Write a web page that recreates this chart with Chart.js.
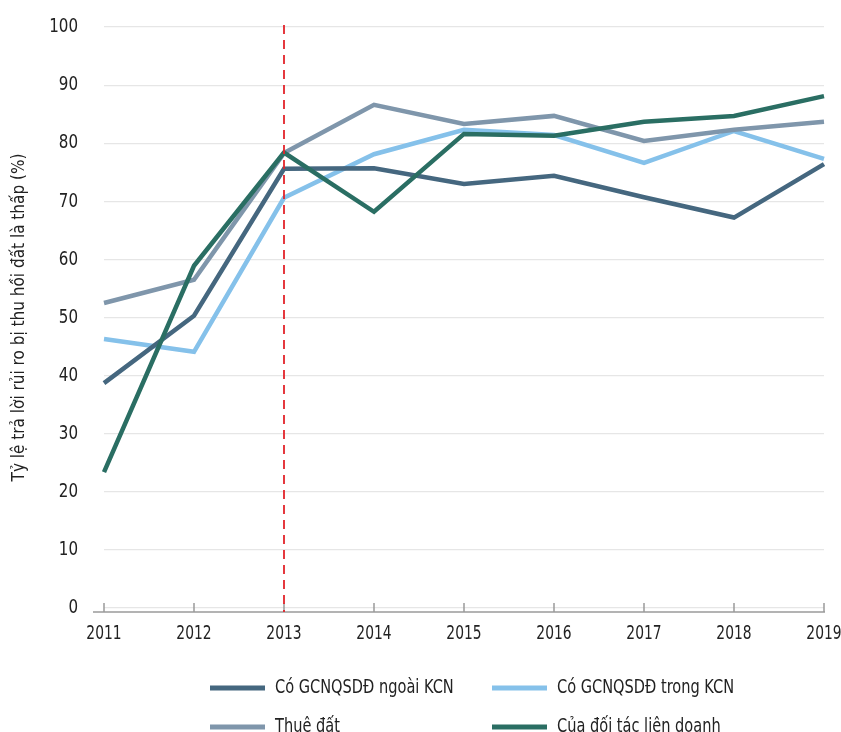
<!DOCTYPE html>
<html><head><meta charset="utf-8">
<script src="https://cdn.jsdelivr.net/npm/chart.js@4.4.1/dist/chart.umd.min.js"></script>
<style>html,body{margin:0;padding:0;background:#fff}#wrap{width:841px;height:732px;position:relative}</style>
</head><body><div id="wrap"><canvas id="c" width="841" height="732"></canvas></div>
<script>
const years = ['2011','2012','2013','2014','2015','2016','2017','2018','2019'];
const ngoaiKCN = [38.7, 50.3, 75.6, 75.7, 73.0, 74.4, 70.7, 67.2, 76.4];
const trongKCN = [46.3, 44.1, 70.6, 78.1, 82.3, 81.4, 76.6, 82.1, 77.3];
const thueDat  = [52.5, 56.5, 78.3, 86.6, 83.3, 84.7, 80.4, 82.3, 83.7];
const doiTac   = [23.4, 58.9, 78.4, 68.2, 81.6, 81.3, 83.7, 84.7, 88.1];
const seriesNames = ['Có GCNQSDĐ ngoài KCN','Có GCNQSDĐ trong KCN','Thuê đất','Của đối tác liên doanh'];
const yTicks = [0,10,20,30,40,50,60,70,80,90,100];
const markerYear = '2013';
const yTitle = 'Tỷ lệ trả lời rủi ro bị thu hồi đất là thấp (%)';

const FONT = "'DejaVu Sans Condensed','DejaVu Sans',sans-serif";
const colors = ['#45677f','#85c1ea','#7f96ab','#2a6e63'];

function txt(ctx, s, x, y, size, sx, align){
  ctx.save();
  ctx.font = size + "px " + FONT;
  ctx.fillStyle = '#222';
  ctx.textBaseline = 'middle';
  ctx.textAlign = align;
  ctx.translate(x, y); ctx.scale(sx, 1);
  ctx.fillText(s, 0, 0);
  ctx.restore();
}

const extras = {
  id:'extras',
  afterDatasetsDraw(chart){
    const ctx = chart.ctx, x = chart.scales.x, y = chart.scales.y, ca = chart.chartArea;
    ctx.save();
    const yb = y.getPixelForValue(0) + 4;
    ctx.strokeStyle = '#9a9a9a'; ctx.lineWidth = 1.5;
    ctx.beginPath(); ctx.moveTo(ca.left-11, yb); ctx.lineTo(ca.right+1, yb); ctx.stroke();
    years.forEach((yr,i)=>{
      const px = x.getPixelForValue(i);
      ctx.beginPath(); ctx.moveTo(px, yb); ctx.lineTo(px, yb-9); ctx.stroke();
    });
    const mx = x.getPixelForValue(years.indexOf(markerYear));
    ctx.strokeStyle = '#e3242b'; ctx.lineWidth = 1.8; ctx.setLineDash([9,6]);
    ctx.beginPath(); ctx.moveTo(mx, y.getPixelForValue(100)-2); ctx.lineTo(mx, yb); ctx.stroke();
    ctx.setLineDash([]);
    ctx.restore();
  },
  afterDraw(chart){
    const ctx = chart.ctx, x = chart.scales.x, y = chart.scales.y, ca = chart.chartArea;
    yTicks.forEach(v=> txt(ctx, String(v), ca.left-26, y.getPixelForValue(v), 20, 0.84, 'right'));
    years.forEach((yr,i)=> txt(ctx, yr, x.getPixelForValue(i), 634, 20, 0.77, 'center'));
    ctx.save();
    ctx.translate(20, (ca.top+ca.bottom)/2); ctx.rotate(-Math.PI/2);
    txt(ctx, yTitle, 0, 0, 17, 1, 'center');
    ctx.restore();
    const pos = [[210,688],[492,688],[210,727],[492,727]];
    chart.data.datasets.forEach((ds,i)=>{
      const [lx,ly] = pos[i];
      ctx.fillStyle = ds.borderColor; ctx.fillRect(lx, ly-2.5, 55, 5);
      txt(ctx, ds.label, lx+65, ly, 20, 0.81, 'left');
    });
  }
};

const data = [ngoaiKCN, trongKCN, thueDat, doiTac];
const orders = [1,3,2,0];
new Chart(document.getElementById('c'), {
  type:'line',
  data:{
    labels: years,
    datasets: data.map((d,i)=>({label:seriesNames[i], data:d, borderColor:colors[i], backgroundColor:colors[i], borderWidth:4.5, pointRadius:0, tension:0, order:orders[i]}))
  },
  options:{
    responsive:false, animation:false,
    layout:{padding:{left:0,right:17,top:27,bottom:0}},
    plugins:{legend:{display:false}, tooltip:{enabled:false}},
    scales:{
      x:{
        grid:{display:false, drawTicks:false},
        border:{display:false},
        ticks:{display:false},
        afterFit(s){ s.height = 124; }
      },
      y:{
        min:0, max:100,
        afterBuildTicks(s){ s.ticks = yTicks.map(v=>({value:v})); },
        grid:{color:'#e6e6e6', lineWidth:1.2, drawTicks:false},
        border:{display:false},
        ticks:{display:false},
        afterFit(s){ s.width = 104; }
      }
    }
  },
  plugins:[extras]
});
</script></body></html>
